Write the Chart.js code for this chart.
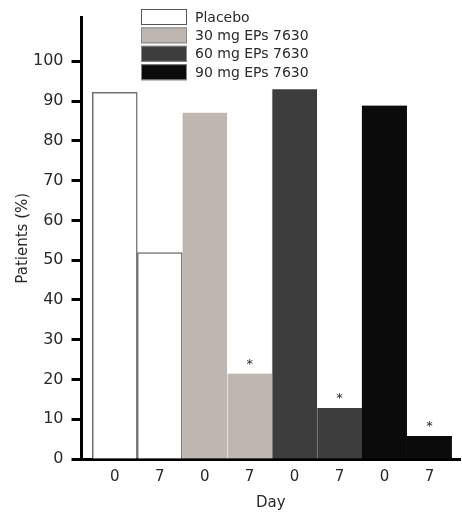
<!DOCTYPE html>
<html>
<head>
<meta charset="utf-8">
<script src="https://cdn.jsdelivr.net/npm/chart.js@4"></script>
<style>
  html, body { margin: 0; padding: 0; background: #fff; }
  #wrap { width: 462px; height: 512px; }
</style>
</head>
<body>
<div id="wrap"><canvas id="chart" width="462" height="512"></canvas></div>
<script>
// day labels under each bar
const days = ['0', '7', '0', '7', '0', '7', '0', '7'];
const groups = ['Placebo', '30 mg EPs 7630', '60 mg EPs 7630', '90 mg EPs 7630'];
// % patients, day 0 then day 7
const placebo = [92.2, 51.9];
const mg30 = [87.1, 21.5];
const mg60 = [93.0, 12.8];
const mg90 = [88.9, 5.8];
// asterisk on day-7 bar
const starred = [false, true, true, true];
const yTicks = [0, 10, 20, 30, 40, 50, 60, 70, 80, 90, 100];

const fills = ['#ffffff', '#bdb6b1', '#3d3d3d', '#0b0b0b'];
const edges = ['#707070', '#ece8e4', '#8a8a8a', '#0b0b0b'];
const FONT = '"DejaVu Sans", sans-serif';
const INK = '#2a2a2a';

const series = [placebo, mg30, mg60, mg90];
const datasets = series.map((vals, g) => ({
  label: groups[g],
  data: vals.map((v, i) => ({ x: g * 2 + i, y: v })),
  backgroundColor: fills[g],
  borderColor: edges[g],
  borderWidth: g === 0 ? 1.5 : { left: 1, right: 0, top: 0, bottom: 0 },
  borderSkipped: g === 0 ? 'bottom' : false,
  barPercentage: 1,
  categoryPercentage: 1,
  grouped: false
}));

// asterisks + stacked legend inside the plot
const extras = {
  id: 'extras',
  afterDatasetsDraw(chart) {
    const ctx = chart.ctx;
    ctx.save();
    ctx.fillStyle = INK;
    ctx.font = '13px ' + FONT;
    ctx.textAlign = 'center';
    ctx.textBaseline = 'middle';
    chart.data.datasets.forEach((ds, g) => {
      if (!starred[g]) return;
      const bar = chart.getDatasetMeta(g).data[1];
      ctx.fillText('*', bar.x, bar.y - 9);
    });

    const bx = 141, by = 9, bw = 46, bh = 16, step = 18.4;
    ctx.font = '14px ' + FONT;
    ctx.textAlign = 'left';
    chart.data.datasets.forEach((ds, g) => {
      const y = by + g * step;
      ctx.fillStyle = ds.backgroundColor;
      ctx.fillRect(bx, y, bw, bh);
      ctx.strokeStyle = g === 0 ? '#555' : '#888';
      ctx.lineWidth = 1;
      ctx.strokeRect(bx + 0.5, y + 0.5, bw - 1, bh - 1);
      ctx.fillStyle = INK;
      ctx.fillText(ds.label, bx + bw + 8, y + bh / 2 + 1);
    });
    ctx.restore();
  }
};

new Chart(document.getElementById('chart'), {
  type: 'bar',
  data: { datasets },
  options: {
    responsive: false,
    animation: false,
    layout: { padding: { left: 7, right: 2, top: 14, bottom: 0 } },
    plugins: {
      legend: { display: false },
      tooltip: { enabled: false }
    },
    scales: {
      x: {
        type: 'linear',
        offset: false,
        min: -0.74,
        max: 7.68,
        afterBuildTicks: (scale) => { scale.ticks = days.map((d, i) => ({ value: i })); },
        ticks: {
          callback: (v) => days[v],
          color: INK,
          font: { family: FONT, size: 15 },
          padding: 9
        },
        grid: { display: false, drawTicks: false },
        border: { color: '#000', width: 3 },
        title: {
          display: true,
          text: 'Day',
          color: INK,
          font: { family: FONT, size: 15 },
          padding: { top: -1, bottom: 0 }
        }
      },
      y: {
        min: 0,
        max: 111,
        afterBuildTicks: (scale) => { scale.ticks = yTicks.map(v => ({ value: v })); },
        ticks: {
          color: INK,
          font: { family: FONT, size: 16 },
          padding: 8
        },
        grid: {
          display: true,
          drawOnChartArea: false,
          drawTicks: true,
          tickLength: 10,
          tickWidth: 3,
          tickColor: '#000'
        },
        border: { color: '#000', width: 3 },
        title: {
          display: true,
          text: 'Patients (%)',
          color: INK,
          font: { family: FONT, size: 15 },
          padding: { top: 7, bottom: -7 }
        }
      }
    }
  },
  plugins: [extras]
});
</script>
</body>
</html>
